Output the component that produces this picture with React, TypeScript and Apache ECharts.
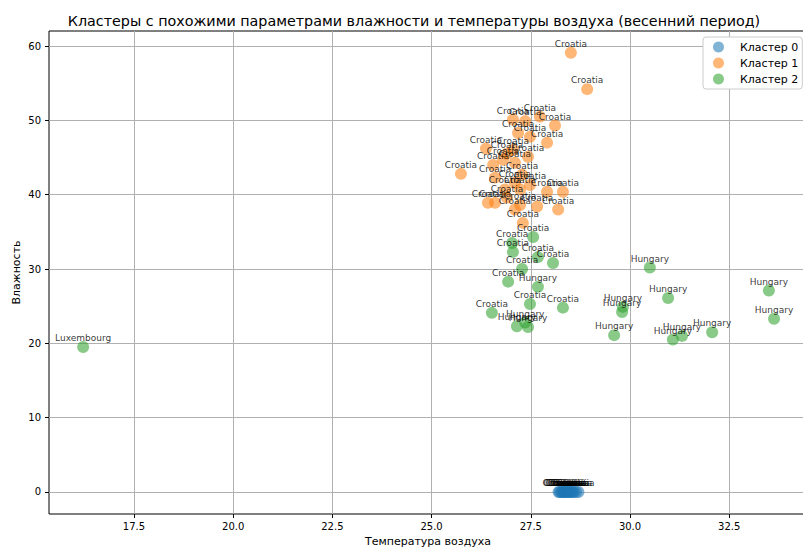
import React, { useEffect, useRef } from "react";
import * as echarts from "echarts";

const FONT = "DejaVu Sans";

const TITLE =
  "Кластеры с похожими параметрами влажности и температуры воздуха (весенний период)";
const X_NAME = "Температура воздуха";
const Y_NAME = "Влажность";
const CLUSTER_NAMES = ["Кластер 0", "Кластер 1", "Кластер 2"];
const CLUSTER_COLORS = [
  "rgba(31,119,180,0.7)",
  "rgba(255,127,14,0.7)",
  "rgba(44,160,44,0.7)",
];

const X_TICKS = [17.5, 20, 22.5, 25, 27.5, 30, 32.5];
const Y_TICKS = [0, 10, 20, 30, 40, 50, 60];
const X_MIN = 15.36;
const X_MAX = 34.46;
const Y_MIN = -2.96;
const Y_MAX = 62.02;

// Cluster 0
const cluster0Temp = [
  28.2, 28.23, 28.27, 28.3, 28.33, 28.35, 28.39, 28.41, 28.45, 28.47, 28.51, 28.55,
  28.58, 28.64, 28.7,
];
const cluster0Humidity = [0, 0, 0, 0, 0, 0, 0, 0, 0, 0, 0, 0, 0, 0, 0];
const cluster0Country = [
  "Croatia", "Croatia", "Croatia", "Croatia", "Croatia", "Croatia", "Croatia", "Croatia",
  "Croatia", "Croatia", "Croatia", "Croatia", "Croatia", "Croatia", "Croatia",
];

// Cluster 1
const cluster1Temp = [
  28.51, 28.92, 27.05, 27.36, 27.73, 28.11, 27.18, 27.91, 27.48, 26.37, 26.9, 27.05,
  27.43, 26.8, 27.1, 25.74, 26.55, 26.6, 27.1, 27.91, 28.31, 26.42, 26.6, 26.9, 27.23,
  27.66, 28.19, 27.1, 27.3, 26.85, 27.23, 27.48, 27.28,
];
const cluster1Humidity = [
  59.1, 54.2, 50.1, 49.9, 50.5, 49.3, 48.3, 47.0, 47.8, 46.2, 45.5, 46.0, 45.1, 44.7,
  44.3, 42.8, 44.0, 42.3, 41.6, 40.4, 40.4, 38.9, 38.9, 39.6, 38.6, 38.4, 38.0, 38.0,
  36.2, 40.7, 40.7, 41.3, 42.7,
];
const cluster1Country = [
  "Croatia", "Croatia", "Croatia", "Croatia", "Croatia", "Croatia", "Croatia", "Croatia",
  "Croatia", "Croatia", "Croatia", "Croatia", "Croatia", "Croatia", "Croatia", "Croatia",
  "Croatia", "Croatia", "Croatia", "Croatia", "Croatia", "Croatia", "Croatia", "Croatia",
  "Croatia", "Croatia", "Croatia", "Croatia", "Croatia", "Croatia", "Croatia", "Croatia",
  "Croatia",
];

// Cluster 2
const cluster2Temp = [
  27.56, 27.03, 27.05, 27.68, 28.06, 27.28, 26.93, 27.48, 28.31, 26.52, 27.68, 27.15,
  27.36, 27.43, 30.5, 30.96, 29.82, 29.8, 29.6, 31.08, 31.31, 32.07, 33.5, 33.63, 16.22,
];
const cluster2Humidity = [
  34.3, 33.5, 32.3, 31.6, 30.8, 30.0, 28.3, 25.3, 24.8, 24.1, 27.6, 22.3, 22.8, 22.2,
  30.2, 26.1, 24.9, 24.2, 21.1, 20.5, 21.0, 21.5, 27.1, 23.3, 19.5,
];
const cluster2Country = [
  "Croatia", "Croatia", "Croatia", "Croatia", "Croatia", "Croatia", "Croatia", "Croatia",
  "Croatia", "Croatia", "Hungary", "Hungary", "Hungary", "Hungary", "Hungary", "Hungary",
  "Hungary", "Hungary", "Hungary", "Hungary", "Hungary", "Hungary", "Hungary", "Hungary",
  "Luxembourg",
];

const clusters = [
  { temp: cluster0Temp, hum: cluster0Humidity, country: cluster0Country },
  { temp: cluster1Temp, hum: cluster1Humidity, country: cluster1Country },
  { temp: cluster2Temp, hum: cluster2Humidity, country: cluster2Country },
];

export default function App() {
  const ref = useRef<HTMLDivElement>(null);

  useEffect(() => {
    if (!ref.current) return;
    const chart = echarts.init(ref.current, null, { renderer: "svg" });

    const series = clusters.map((c, i) => ({
      type: "scatter",
      name: CLUSTER_NAMES[i],
      symbol: "circle",
      symbolSize: 12,
      itemStyle: { color: CLUSTER_COLORS[i] },
      label: {
        show: true,
        formatter: "{b}",
        position: "inside",
        offset: [0, -9],
        fontFamily: FONT,
        fontSize: 9,
        color: "#000",
        textBorderWidth: 0,
        textBorderColor: "transparent",
      },
      emphasis: { disabled: true },
      data: c.temp.map((t, k) => ({ name: c.country[k], value: [t, c.hum[k]] })),
    }));

    chart.setOption({
      animation: false,
      textStyle: { fontFamily: FONT },
      title: {
        text: TITLE,
        left: 409,
        textAlign: "center",
        top: 9,
        textStyle: { fontFamily: FONT, fontSize: 14.3, fontWeight: "normal", color: "#000" },
      },
      legend: {
        orient: "vertical",
        left: 703,
        top: 37,
        padding: [4, 4, 4, 10],
        itemWidth: 11,
        itemHeight: 11,
        itemGap: 4,
        icon: "circle",
        borderColor: "#cccccc",
        borderWidth: 1,
        borderRadius: 3,
        backgroundColor: "#ffffff",
        textStyle: {
          fontFamily: FONT,
          fontSize: 11,
          color: "#000",
          lineHeight: 12,
          padding: [0, 0, 0, 11],
        },
        data: CLUSTER_NAMES,
      },
      grid: {
        left: 49,
        top: 31,
        right: -4,
        bottom: 35,
        outerBoundsMode: "none",
        containLabel: false,
        show: true,
        borderColor: "#000",
        borderWidth: 1,
        backgroundColor: "transparent",
      },
      xAxis: {
        type: "value",
        min: X_MIN,
        max: X_MAX,
        name: X_NAME,
        nameLocation: "middle",
        nameMoveOverlap: false,
        nameGap: 22,
        nameTextStyle: { fontFamily: FONT, fontSize: 11, color: "#000" },
        axisLine: { show: false, onZero: false },
        axisTick: {
          show: true,
          length: 4,
          customValues: X_TICKS,
          lineStyle: { color: "#000" },
        },
        axisLabel: {
          customValues: X_TICKS,
          formatter: (v: number) => v.toFixed(1),
          fontFamily: FONT,
          fontSize: 10,
          color: "#000",
          margin: 7,
        },
        splitLine: { show: true, lineStyle: { color: "#b0b0b0", width: 1 } },
      },
      yAxis: {
        type: "value",
        min: Y_MIN,
        max: Y_MAX,
        name: Y_NAME,
        nameLocation: "middle",
        nameMoveOverlap: false,
        nameGap: 27,
        nameTextStyle: { fontFamily: FONT, fontSize: 11, color: "#000" },
        axisLine: { show: false, onZero: false },
        axisTick: {
          show: true,
          length: 4,
          customValues: Y_TICKS,
          lineStyle: { color: "#000" },
        },
        axisLabel: {
          customValues: Y_TICKS,
          formatter: (v: number) => String(Math.round(v)),
          fontFamily: FONT,
          fontSize: 10,
          color: "#000",
          margin: 8,
        },
        splitLine: { show: true, lineStyle: { color: "#b0b0b0", width: 1 } },
      },
      series,
    });

    return () => chart.dispose();
  }, []);

  return (
    <div
      ref={ref}
      style={{ position: "absolute", left: 0, top: 0, width: 803, height: 549, background: "#fff" }}
    />
  );
}
